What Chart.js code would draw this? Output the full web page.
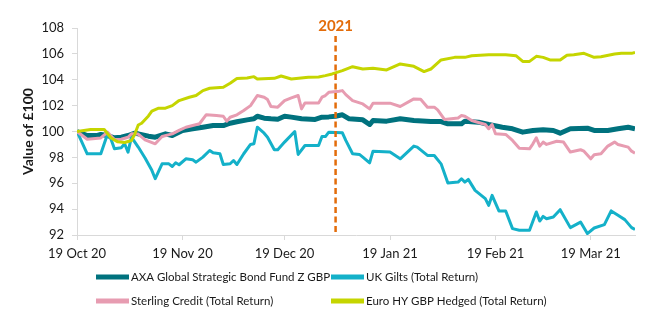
<!DOCTYPE html>
<html>
<head>
<meta charset="utf-8">
<script src="https://cdn.jsdelivr.net/npm/chart.js@4/dist/chart.umd.min.js"></script>
<style>
html,body{margin:0;padding:0;background:#ffffff;}
#wrap{width:655px;height:322px;position:relative;}
</style>
</head>
<body>
<div id="wrap"><canvas id="c" width="655" height="322"></canvas></div>
<script>
// x positions are calendar days counted from 19 Oct 2020
const tickDays = [0, 31, 61, 92, 123, 151];
const tickLabels = ['19 Oct 20', '19 Nov 20', '19 Dec 20', '19 Jan 21', '19 Feb 21', '19 Mar 21'];
const yTicks = [92, 94, 96, 98, 100, 102, 104, 106, 108];

const seriesNames = [
  'AXA Global Strategic Bond Fund Z GBP',
  'UK Gilts (Total Return)',
  'Sterling Credit (Total Return)',
  'Euro HY GBP Hedged (Total Return)'
];

const yearMarkDay = 76;
const yearMarkLabel = '2021';

const axaDays = [0,3,6,7,9,11,13,15,17,18,21,23,26,28,31,34,37,40,43,45,47,50,52,53,55,57,59,61,63,66,70,72,74,76,78,80,84,86,87,91,95,99,104,107,109,113,114,118,121,125,128,131,134,137,140,142,145,150,152,156,159,162,164];
const axaValues = [100,99.69,99.69,99.77,99.69,99.51,99.56,99.69,99.87,99.82,99.64,99.56,99.82,99.69,100.08,100.21,100.33,100.46,100.46,100.64,100.75,100.9,100.98,101.18,101.03,100.98,100.95,101.18,101.11,100.98,100.93,101.11,101.13,101.18,101.29,100.98,100.9,100.54,100.85,100.8,100.98,100.85,100.77,100.77,100.59,100.59,100.8,100.72,100.54,100.33,100.21,99.95,100.08,100.13,100.08,99.87,100.21,100.26,100.08,100.08,100.21,100.33,100.21];

const giltDays = [0,3,7,9,10,11,13,14,15,16,18,20,22,23,25,27,28,29,30,32,34,35,37,39,40,42,43,45,46,47,49,51,52,53,55,56,58,59,61,64,65,67,71,72,73,74,78,79,81,83,84,86,87,92,95,99,100,103,105,107,109,112,113,114,115,117,120,121,122,124,126,128,130,133,135,136,137,138,140,142,145,148,150,152,155,157,159,161,163,164];
const giltValues = [100,98.28,98.28,99.82,99.4,98.66,98.75,99.05,98.4,99.56,98.8,97.95,97.0,96.35,97.5,97.5,97.3,97.58,97.43,97.89,97.81,97.63,98.02,98.53,98.35,98.28,97.45,97.51,97.76,97.45,98.28,99.0,99.05,100.33,99.87,99.56,98.59,98.59,99.18,100.0,98.23,98.92,98.92,99.61,99.61,99.95,99.9,99.31,98.28,98.23,98.02,97.58,98.48,98.41,97.89,98.87,98.79,98.15,98.15,97.5,96.02,96.09,96.35,96.09,96.3,95.45,94.81,94.29,95.06,93.86,93.86,92.49,92.37,92.37,93.78,93.08,93.44,93.26,93.39,93.96,92.57,93.0,92.11,92.54,92.8,93.86,93.52,93.19,92.57,92.42];

const creditDays = [0,3,7,9,11,13,15,16,18,20,23,25,28,30,32,36,38,41,43,44,45,47,49,51,53,55,56,57,59,61,63,65,66,67,71,72,73,74,77,78,79,81,84,86,87,92,95,99,101,103,105,106,108,112,113,114,116,120,121,122,123,126,128,130,133,134,135,136,137,138,141,143,145,148,149,151,152,154,156,158,159,162,163,164];
const creditValues = [100,99.4,99.5,99.95,99.38,99.4,99.56,99.82,99.8,99.36,99.05,99.61,99.82,100.08,100.33,100.6,101.3,101.23,101.18,100.8,101.1,101.29,101.62,102.0,102.78,102.65,102.47,101.93,101.88,102.39,102.6,102.78,101.75,102.21,102.21,102.65,102.78,103.03,103.11,103.16,102.85,102.39,102.13,101.75,102.19,102.19,101.93,102.52,102.49,101.88,101.88,101.67,100.93,101.05,101.23,101.18,100.85,100.54,100.21,100.54,99.82,99.77,99.31,98.71,98.66,99.05,99.51,98.87,99.18,99.0,99.25,99.18,98.41,98.59,98.48,97.89,98.2,98.28,98.87,99.18,99.0,98.79,98.48,98.33];

const hyDays = [0,4,8,10,12,14,16,17,18,19,21,22,24,26,28,30,33,35,37,39,43,45,47,50,52,53,58,60,63,68,71,73,75,78,81,84,87,91,95,99,102,104,107,111,114,116,121,126,129,131,133,135,137,139,142,144,146,149,152,154,158,160,163,164];
const hyValues = [100,100.15,100.15,99.5,99.2,99.15,99.3,99.8,100.5,100.64,101.2,101.57,101.8,101.8,102.0,102.39,102.65,102.78,103.16,103.34,103.42,103.73,104.09,104.14,104.24,104.06,104.11,104.29,104.06,104.19,104.22,104.32,104.45,104.7,105.01,104.83,104.88,104.76,105.22,105.04,104.63,104.83,105.53,105.73,105.73,105.86,105.94,105.94,105.86,105.42,105.42,105.81,105.73,105.53,105.53,105.9,105.94,106.04,105.73,105.78,105.99,106.04,106.04,106.12];

const FONT = 'Lato, "Open Sans", sans-serif';
const TEXT = '#1a1a1a';
const AXIS = '#d9d9d9';

function pts(days, vals) { return days.map((d, i) => ({ x: d, y: vals[i] })); }

const seriesColors = ['#00727e', '#14b1c9', '#e79cb1', '#c5d500'];
const seriesWidths = [5, 3, 3, 3];
const seriesData = [pts(axaDays, axaValues), pts(giltDays, giltValues), pts(creditDays, creditValues), pts(hyDays, hyValues)];

const datasets = seriesNames.map((name, i) => ({
  label: name,
  data: seriesData[i],
  borderColor: seriesColors[i],
  backgroundColor: seriesColors[i],
  borderWidth: seriesWidths[i],
  pointRadius: 0,
  tension: 0,
  fill: false,
  borderJoinStyle: 'round',
  order: 3 - i
}));

const yearMarkPlugin = {
  id: 'yearMark',
  afterDatasetsDraw(chart) {
    const { ctx, scales: { x, y } } = chart;
    const px = x.getPixelForValue(yearMarkDay);
    ctx.save();
    ctx.strokeStyle = '#e36c0a';
    ctx.lineWidth = 2.5;
    ctx.setLineDash([6, 3.5]);
    ctx.beginPath();
    ctx.moveTo(px, 36);
    ctx.lineTo(px, y.bottom);
    ctx.stroke();
    ctx.setLineDash([]);
    ctx.fillStyle = '#e36c0a';
    ctx.font = 'bold 15px ' + FONT;
    ctx.textAlign = 'center';
    ctx.textBaseline = 'middle';
    ctx.fillText(yearMarkLabel, px, 26);
    ctx.restore();
  }
};

const legendPlugin = {
  id: 'gridLegend',
  afterDraw(chart) {
    const ctx = chart.ctx;
    const cols = [96, 331];
    const rows = [277, 301];
    chart.data.datasets.forEach((d, i) => {
      const x = cols[i % 2];
      const y = rows[Math.floor(i / 2)];
      ctx.save();
      ctx.strokeStyle = d.borderColor;
      ctx.lineWidth = 5;
      ctx.beginPath();
      ctx.moveTo(x, y);
      ctx.lineTo(x + 33, y);
      ctx.stroke();
      ctx.fillStyle = TEXT;
      ctx.font = '11.5px ' + FONT;
      ctx.textBaseline = 'middle';
      ctx.textAlign = 'left';
      ctx.fillText(d.label, x + 35, y + 0.5);
      ctx.restore();
    });
  }
};

new Chart(document.getElementById('c'), {
  type: 'line',
  data: { datasets },
  options: {
    responsive: false,
    animation: false,
    devicePixelRatio: 1,
    layout: { padding: { left: 0, right: 20, top: 28, bottom: 57 } },
    plugins: { legend: { display: false }, tooltip: { enabled: false } },
    scales: {
      x: {
        type: 'linear',
        min: 0,
        max: 164,
        afterBuildTicks(s) { s.ticks = tickDays.map(v => ({ value: v })); },
        afterFit(s) { s.height = 30; },
        ticks: {
          autoSkip: false, maxRotation: 0, padding: 6, color: TEXT,
          font: { family: FONT, size: 13 },
          callback: (v, i) => tickLabels[i]
        },
        grid: { display: true, drawOnChartArea: false, drawTicks: true, tickLength: 5, color: AXIS },
        border: { display: true, color: AXIS, width: 1 }
      },
      y: {
        min: 92,
        max: 108,
        afterBuildTicks(s) { s.ticks = yTicks.map(v => ({ value: v })); },
        afterFit(s) { s.width = 77; },
        ticks: { padding: 8, color: TEXT, font: { family: FONT, size: 13 } },
        grid: { display: true, drawOnChartArea: false, drawTicks: true, tickLength: 5, color: AXIS },
        border: { display: true, color: AXIS, width: 1 },
        title: {
          display: true, text: 'Value of £100', color: TEXT,
          font: { family: FONT, size: 14, weight: 'bold' },
          padding: { top: 20, bottom: 0 }
        }
      }
    }
  },
  plugins: [yearMarkPlugin, legendPlugin]
});
</script>
</body>
</html>
